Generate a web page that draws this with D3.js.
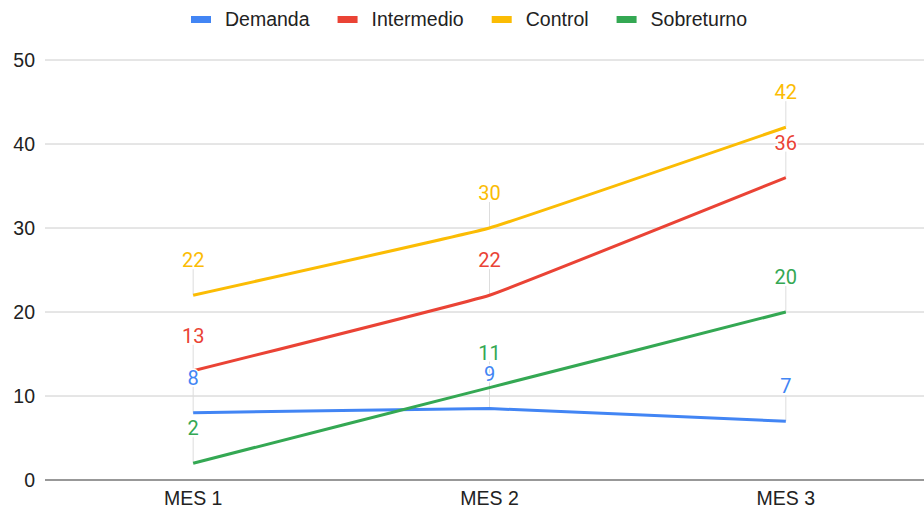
<!DOCTYPE html>
<html>
<head>
<meta charset="utf-8">
<script src="https://cdn.jsdelivr.net/npm/d3@7"></script>
<style>
  body { margin: 0; background: #fff; }
  svg { display: block; font-family: Arial, "Liberation Sans", sans-serif; }
</style>
</head>
<body>
<div id="chart"></div>
<script>
const months = ["MES 1", "MES 2", "MES 3"];
const seriesNames = ["Demanda", "Intermedio", "Control", "Sobreturno"];
const seriesColors = ["#4285F4", "#EA4335", "#FBBC04", "#34A853"];
const demanda = [8, 8.5, 7];
const intermedio = [13, 22, 36];
const control = [22, 30, 42];
const sobreturno = [2, 11, 20];
const yTicks = [0, 10, 20, 30, 40, 50];

const series = [demanda, intermedio, control, sobreturno].map((values, i) => ({
  name: seriesNames[i],
  color: seriesColors[i],
  values: values.map((v, j) => ({ month: months[j], value: v }))
}));

const width = 924, height = 510;

const svg = d3.select("#chart").append("svg")
  .attr("width", width)
  .attr("height", height);

const x = d3.scaleBand()
  .domain(months)
  .range([45, 934]);

const y = d3.scaleLinear()
  .domain([0, 50])
  .range([480, 60]);

const cx = d => x(d.month) + x.bandwidth() / 2;

// gridlines
svg.append("g")
  .selectAll("line")
  .data(yTicks.filter(t => t !== 0))
  .join("line")
  .attr("x1", 45)
  .attr("x2", width)
  .attr("y1", d => y(d))
  .attr("y2", d => y(d))
  .attr("stroke", "#cccccc")
  .attr("stroke-width", 1);

// y axis labels
svg.append("g")
  .selectAll("text")
  .data(yTicks)
  .join("text")
  .attr("x", 35)
  .attr("y", d => y(d))
  .attr("dy", "0.35em")
  .attr("text-anchor", "end")
  .attr("font-size", 19.5)
  .attr("fill", "#222")
  .text(d => d);

// x labels
svg.append("g")
  .selectAll("text")
  .data(months)
  .join("text")
  .attr("x", d => x(d) + x.bandwidth() / 2)
  .attr("y", 505)
  .attr("text-anchor", "middle")
  .attr("font-size", 19.5)
  .attr("fill", "#222")
  .text(d => d);

// leader lines for labels
const allPoints = series.flatMap(s => s.values.map(v => ({ ...v, color: s.color })));

svg.append("g")
  .selectAll("line")
  .data(allPoints)
  .join("line")
  .attr("x1", cx)
  .attr("x2", cx)
  .attr("y1", d => y(d.value) - 26)
  .attr("y2", d => y(d.value))
  .attr("stroke", "#dddddd")
  .attr("stroke-width", 1);

// baseline
svg.append("line")
  .attr("x1", 45)
  .attr("x2", width)
  .attr("y1", y(0))
  .attr("y2", y(0))
  .attr("stroke", "#333")
  .attr("stroke-width", 1.2);

// lines
const line = d3.line()
  .x(cx)
  .y(d => y(d.value))
  .curve(d3.curveCardinal.tension(0.8));

svg.append("g")
  .selectAll("path")
  .data(series)
  .join("path")
  .attr("d", d => line(d.values))
  .attr("fill", "none")
  .attr("stroke", d => d.color)
  .attr("stroke-width", 3);

// data labels
svg.append("g")
  .selectAll("text")
  .data(allPoints)
  .join("text")
  .attr("x", cx)
  .attr("y", d => y(d.value) - 28)
  .attr("text-anchor", "middle")
  .attr("font-family", "Roboto, Arial, sans-serif")
  .attr("font-size", 20)
  .attr("fill", d => d.color)
  .attr("stroke", "#fff")
  .attr("stroke-width", 3)
  .attr("paint-order", "stroke")
  .text(d => Math.round(d.value));

// legend
const legend = svg.append("g");
let lx = 191;
series.forEach(s => {
  legend.append("rect")
    .attr("x", lx)
    .attr("y", 16)
    .attr("width", 20)
    .attr("height", 7)
    .attr("fill", s.color);
  const t = legend.append("text")
    .attr("x", lx + 34)
    .attr("y", 26)
    .attr("font-size", 19.5)
    .attr("fill", "#222")
    .text(s.name);
  lx += 34 + t.node().getComputedTextLength() + 28;
});
</script>
</body>
</html>
